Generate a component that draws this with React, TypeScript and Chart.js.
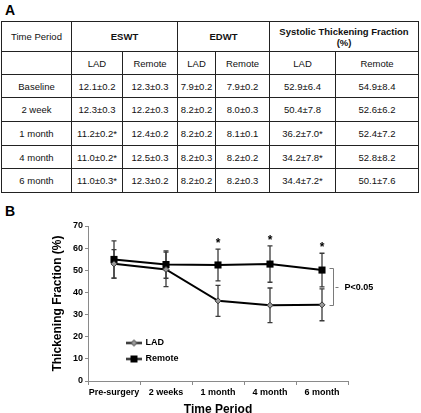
import React, { useEffect, useRef } from "react";
import { Chart, registerables } from "chart.js";

Chart.register(...registerables);

// ---------- Table (panel A) data ----------
const tableGroups = ["ESWT", "EDWT", "Systolic Thickening Fraction (%)"];
const tableSubHeads = ["LAD", "Remote"];
const tablePeriods = ["Baseline", "2 week", "1 month", "4 month", "6 month"];
const eswtLad = ["12.1±0.2", "12.3±0.3", "11.2±0.2*", "11.0±0.2*", "11.0±0.3*"];
const eswtRemote = ["12.3±0.3", "12.2±0.3", "12.4±0.2", "12.5±0.3", "12.3±0.2"];
const edwtLad = ["7.9±0.2", "8.2±0.2", "8.2±0.2", "8.2±0.3", "8.2±0.2"];
const edwtRemote = ["7.9±0.2", "8.0±0.3", "8.1±0.1", "8.2±0.2", "8.2±0.3"];
const stfLad = ["52.9±6.4", "50.4±7.8", "36.2±7.0*", "34.2±7.8*", "34.4±7.2*"];
const stfRemote = ["54.9±8.4", "52.6±6.2", "52.4±7.2", "52.8±8.2", "50.1±7.6"];

// ---------- Chart (panel B) data ----------
const categories = ["Pre-surgery", "2 weeks", "1 month", "4 month", "6 month"];
const ladMean = [52.9, 50.4, 36.2, 34.2, 34.4];
const ladSD = [6.4, 7.8, 7.0, 7.8, 7.2];
const remoteMean = [54.9, 52.6, 52.4, 52.8, 50.1];
const remoteSD = [8.4, 6.2, 7.2, 8.2, 7.6];
const significance = ["", "", "*", "*", "*"];
const seriesNames = ["LAD", "Remote"];
const bracketLabel = "P<0.05";
const xTitle = "Time Period";
const yTitle = "Thickening Fraction (%)";
const yMin = 0;
const yMax = 70;
const yStep = 10;

const FONT = "'Liberation Sans', Arial, Helvetica, sans-serif";

function makeIcon(kind: "diamond" | "square"): HTMLCanvasElement {
  const c = document.createElement("canvas");
  c.width = 16;
  c.height = 9;
  const g = c.getContext("2d")!;
  g.strokeStyle = "#000";
  g.lineWidth = 2;
  g.beginPath();
  g.moveTo(0, 4.5);
  g.lineTo(16, 4.5);
  g.stroke();
  if (kind === "square") {
    g.fillStyle = "#000";
    g.fillRect(4.5, 1, 7, 7);
  } else {
    g.fillStyle = "#9a9a9a";
    g.strokeStyle = "#333";
    g.lineWidth = 1;
    g.beginPath();
    g.moveTo(8, 1.5);
    g.lineTo(11, 4.5);
    g.lineTo(8, 7.5);
    g.lineTo(5, 4.5);
    g.closePath();
    g.fill();
    g.stroke();
  }
  return c;
}

const errorBarPlugin = {
  id: "errorBarsAndNotes",
  beforeDatasetsDraw(chart: any) {
    const { ctx } = chart;
    const xs = chart.scales.x;
    const ys = chart.scales.y;
    ctx.save();
    ctx.strokeStyle = "#3a3a3a";
    ctx.lineWidth = 1.3;
    const pairs: [number[], number[]][] = [
      [ladMean, ladSD],
      [remoteMean, remoteSD],
    ];
    pairs.forEach(([m, s]) => {
      m.forEach((v, i) => {
        const px = xs.getPixelForValue(i);
        const top = ys.getPixelForValue(v + s[i]);
        const bot = ys.getPixelForValue(v - s[i]);
        ctx.beginPath();
        ctx.moveTo(px, top);
        ctx.lineTo(px, bot);
        ctx.moveTo(px - 2.5, top);
        ctx.lineTo(px + 2.5, top);
        ctx.moveTo(px - 2.5, bot);
        ctx.lineTo(px + 2.5, bot);
        ctx.stroke();
      });
    });
    ctx.restore();
  },
  afterDatasetsDraw(chart: any) {
    const { ctx } = chart;
    const xs = chart.scales.x;
    const ys = chart.scales.y;
    ctx.save();
    // significance asterisks
    ctx.fillStyle = "#000";
    ctx.font = `bold 12px ${FONT}`;
    ctx.textAlign = "center";
    ctx.textBaseline = "alphabetic";
    significance.forEach((s, i) => {
      if (!s) return;
      const px = xs.getPixelForValue(i);
      const top = ys.getPixelForValue(remoteMean[i] + remoteSD[i]);
      ctx.fillText(s, px, top - 2);
    });
    // bracket at last time point
    const last = categories.length - 1;
    const bx = xs.getPixelForValue(last) + 11.5;
    const yTop = Math.round(ys.getPixelForValue(remoteMean[last])) - 1.5;
    const yBot = Math.round(ys.getPixelForValue(ladMean[last])) + 0.5;
    const yMid = Math.round((yTop + yBot) / 2) + 0.5;
    ctx.strokeStyle = "#7a7a7a";
    ctx.lineWidth = 1;
    ctx.beginPath();
    ctx.moveTo(bx - 4, yTop);
    ctx.lineTo(bx, yTop);
    ctx.lineTo(bx, yBot);
    ctx.lineTo(bx - 4, yBot);
    ctx.moveTo(bx + 2, yMid);
    ctx.lineTo(bx + 5, yMid);
    ctx.stroke();
    ctx.fillStyle = "#000";
    ctx.font = `bold 9px ${FONT}`;
    ctx.textAlign = "left";
    ctx.textBaseline = "middle";
    ctx.fillText(bracketLabel, bx + 11, yMid);
    ctx.restore();
  },
  beforeDraw(chart: any) {
    const lg = chart.legend;
    if (!lg) return;
    const pad = 7;
    const w = lg.right - lg.left;
    lg.left = 127 - pad;
    lg.right = lg.left + w + 40;
    lg.top = 131.5 - pad + 7;
    lg.top = 131.5;
    lg.bottom = chart.chartArea.bottom;
  },
};

function ChartPanel() {
  const ref = useRef<HTMLCanvasElement | null>(null);
  useEffect(() => {
    if (!ref.current) return;
    const icons = [makeIcon("diamond"), makeIcon("square")];
    const chart = new Chart(ref.current, {
      type: "line",
      data: {
        labels: categories,
        datasets: [
          {
            label: seriesNames[0],
            data: ladMean,
            borderColor: "#000",
            borderWidth: 2,
            pointStyle: "rectRot",
            pointRadius: 3,
            pointBackgroundColor: "#9a9a9a",
            pointBorderColor: "#333",
            pointBorderWidth: 1,
            tension: 0,
            fill: false,
          },
          {
            label: seriesNames[1],
            data: remoteMean,
            borderColor: "#000",
            borderWidth: 2,
            pointStyle: "rect",
            pointRadius: 5,
            pointBackgroundColor: "#000",
            pointBorderColor: "#000",
            pointBorderWidth: 0,
            tension: 0,
            fill: false,
          },
        ],
      },
      options: {
        responsive: false,
        animation: false,
        devicePixelRatio: 1,
        layout: { padding: { left: 48, right: 73, top: 26, bottom: 0 } },
        plugins: {
          tooltip: { enabled: false },
          title: { display: false },
          legend: {
            position: "chartArea" as any,
            align: "start",
            labels: {
              usePointStyle: true,
              pointStyleWidth: 14,
              padding: 7,
              color: "#000",
              font: { family: FONT, size: 9, weight: "bold" },
              generateLabels: () =>
                seriesNames.map((n, i) => ({
                  text: n,
                  pointStyle: icons[i],
                  datasetIndex: i,
                  hidden: false,
                  fontColor: "#000",
                  lineWidth: 0,
                })),
            },
          },
        },
        scales: {
          x: {
            type: "category",
            offset: true,
            grid: {
              display: true,
              drawOnChartArea: false,
              drawTicks: true,
              tickLength: 4,
              offset: true,
              color: "#8a8a8a",
            },
            border: { display: true, color: "#8a8a8a", width: 1 },
            ticks: {
              color: "#000",
              font: { family: FONT, size: 9, weight: "bold" },
              padding: 2,
              maxRotation: 0,
              autoSkip: false,
            },
            title: {
              display: true,
              text: xTitle,
              color: "#000",
              font: { family: FONT, size: 12, weight: "bold", lineHeight: 0.6 },
              padding: { top: 0, bottom: 0 },
            },
            afterFit: (s: any) => {
              s.height = 32;
            },
          },
          y: {
            min: yMin,
            max: yMax,
            ticks: {
              stepSize: yStep,
              color: "#000",
              font: { family: FONT, size: 9, weight: "bold" },
              padding: 2,
            },
            grid: {
              display: true,
              drawOnChartArea: false,
              drawTicks: true,
              tickLength: 3,
              color: "#8a8a8a",
            },
            border: { display: true, color: "#8a8a8a", width: 1 },
            title: {
              display: true,
              text: yTitle,
              color: "#000",
              font: { family: FONT, size: 12, weight: "bold" },
              padding: { top: 2, bottom: 0 },
            },
            afterFit: (s: any) => {
              s.width = 40;
            },
          },
        },
      } as any,
      plugins: [errorBarPlugin],
    });
    return () => chart.destroy();
  }, []);
  return (
    <canvas
      ref={ref}
      width={421}
      height={213}
      style={{ position: "absolute", left: 0, top: 200, width: 421, height: 213, display: "block" }}
    />
  );
}

const cell: React.CSSProperties = {
  border: "1px solid #222",
  textAlign: "center",
  verticalAlign: "middle",
  padding: 0,
  fontSize: 9.5,
  lineHeight: "11px",
  color: "#111",
};

export default function App() {
  const rows = tablePeriods.map((p, i) => [
    p,
    eswtLad[i],
    eswtRemote[i],
    edwtLad[i],
    edwtRemote[i],
    stfLad[i],
    stfRemote[i],
  ]);
  const rowHeights = [23, 24, 24, 23, 24];
  return (
    <div
      style={{
        position: "fixed",
        left: 0,
        top: 0,
        width: 421,
        height: 413,
        background: "#fff",
        overflow: "hidden",
        fontFamily: FONT,
      }}
    >
      <div style={{ position: "absolute", left: 5, top: 3, fontSize: 14, lineHeight: "14px", fontWeight: "bold" }}>
        A
      </div>
      <table
        style={{
          position: "absolute",
          left: 1,
          top: 21,
          width: 418,
          borderCollapse: "collapse",
          tableLayout: "fixed",
        }}
      >
        <colgroup>
          <col style={{ width: 70 }} />
          <col style={{ width: 51 }} />
          <col style={{ width: 55 }} />
          <col style={{ width: 38 }} />
          <col style={{ width: 54 }} />
          <col style={{ width: 66 }} />
          <col style={{ width: 83 }} />
        </colgroup>
        <tbody>
          <tr style={{ height: 30 }}>
            <td style={cell}>Time Period</td>
            {tableGroups.map((g) => (
              <td key={g} colSpan={2} style={{ ...cell, fontWeight: "bold", padding: "0 6px" }}>
                {g}
              </td>
            ))}
          </tr>
          <tr style={{ height: 23 }}>
            <td style={cell}></td>
            {tableGroups.map((g) =>
              tableSubHeads.map((s) => (
                <td key={g + s} style={cell}>
                  {s}
                </td>
              ))
            )}
          </tr>
          {rows.map((r, i) => (
            <tr key={i} style={{ height: rowHeights[i] }}>
              {r.map((v, j) => (
                <td key={j} style={cell}>
                  {v}
                </td>
              ))}
            </tr>
          ))}
        </tbody>
      </table>
      <div style={{ position: "absolute", left: 5, top: 204, fontSize: 14, lineHeight: "14px", fontWeight: "bold" }}>
        B
      </div>
      <ChartPanel />
    </div>
  );
}
